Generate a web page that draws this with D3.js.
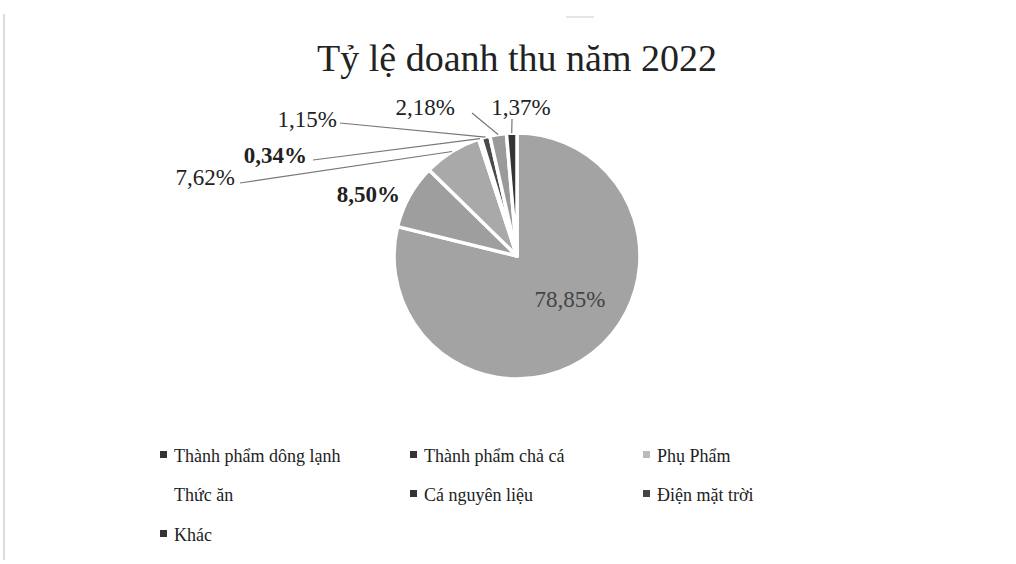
<!DOCTYPE html>
<html>
<head>
<meta charset="utf-8">
<script src="https://cdn.jsdelivr.net/npm/d3@7/dist/d3.min.js"></script>
<style>
  body { margin: 0; background: #fff; }
  svg text { font-family: "Liberation Serif", "Times New Roman", serif; }
</style>
</head>
<body>
<svg id="chart" width="1016" height="564"></svg>
<script>
// data
var categories = ["Thành phẩm dông lạnh", "Thành phẩm chả cá", "Phụ Phẩm",
                  "Thức ăn", "Cá nguyên liệu", "Điện mặt trời", "Khác"];
var shares = [78.85, 8.50, 7.62, 0.34, 1.15, 2.18, 1.37];
var shareLabels = ["78,85%", "8,50%", "7,62%", "0,34%", "1,15%", "2,18%", "1,37%"];

// grey scan look
var fills = ["#a3a3a3", "#9e9e9e", "#a9a9a9", "#2f2f2f", "#4a4a4a", "#9a9a9a", "#353535"];
var markerFills = ["#333", "#333", "#bbb", "none", "#333", "#444", "#333"];

var svg = d3.select("#chart");
var cx = 517, cy = 256, radius = 123;

// faint scan edges
svg.append("line")
  .attr("x1", 4).attr("x2", 4).attr("y1", 14).attr("y2", 560)
  .attr("stroke", "#ddd").attr("stroke-width", 2);
svg.append("line")
  .attr("x1", 566).attr("x2", 594).attr("y1", 17).attr("y2", 17)
  .attr("stroke", "#ccc").attr("stroke-width", 1);

svg.append("text")
  .attr("x", cx).attr("y", 71)
  .attr("text-anchor", "middle")
  .attr("font-size", 38)
  .attr("fill", "#222")
  .text("Tỷ lệ doanh thu năm 2022");

var pie = d3.pie().sort(null).value(d => d);
var arcs = pie(shares);
var arc = d3.arc().innerRadius(0).outerRadius(radius);

var g = svg.append("g").attr("transform", "translate(" + cx + "," + cy + ")");

g.selectAll("path.slice")
  .data(arcs)
  .enter().append("path")
  .attr("class", "slice")
  .attr("d", arc)
  .attr("fill", (d, i) => fills[i])
  .attr("stroke", "#fff")
  .attr("stroke-width", 3.5)
  .attr("stroke-linejoin", "round");

// label placement, relative to pie centre (layout only)
var labelLayout = [
  { dx: 53, dy: 51, anchor: "middle", bold: false, line: null },
  { dx: -117, dy: -54, anchor: "end", bold: true, line: null },
  { dx: -282, dy: -71, anchor: "end", bold: false, line: [-277, -73] },
  { dx: -210, dy: -93, anchor: "end", bold: true, line: [-204, -96] },
  { dx: -180, dy: -129, anchor: "end", bold: false, line: [-177, -133] },
  { dx: -62, dy: -141, anchor: "end", bold: false, line: [-45, -143] },
  { dx: 4, dy: -141, anchor: "middle", bold: false, line: [-5, -137] }
];

function edgePoint(d) {
  var a = (d.startAngle + d.endAngle) / 2;
  return [Math.sin(a) * radius, -Math.cos(a) * radius];
}

g.selectAll("polyline.leader")
  .data(arcs.filter((d, i) => labelLayout[i].line))
  .enter().append("polyline")
  .attr("class", "leader")
  .attr("points", d => [labelLayout[d.index].line, edgePoint(d)].join(" "))
  .attr("fill", "none")
  .attr("stroke", "#777")
  .attr("stroke-width", 1.2);

g.selectAll("text.pct")
  .data(arcs)
  .enter().append("text")
  .attr("class", "pct")
  .attr("x", d => labelLayout[d.index].dx)
  .attr("y", d => labelLayout[d.index].dy)
  .attr("text-anchor", d => labelLayout[d.index].anchor)
  .attr("font-size", 23)
  .attr("font-weight", d => labelLayout[d.index].bold ? "bold" : "normal")
  .attr("fill", (d, i) => i === 0 ? "#444" : "#222")
  .text((d, i) => shareLabels[i]);

// legend, three per row
var colX = [160, 410, 643];
var rowY = [462, 501, 541];

var legend = svg.selectAll("g.legend")
  .data(categories)
  .enter().append("g")
  .attr("class", "legend")
  .attr("transform", (d, i) => "translate(" + colX[i % 3] + "," + rowY[Math.floor(i / 3)] + ")");

legend.append("rect")
  .attr("x", 0).attr("y", -11)
  .attr("width", 7).attr("height", 7)
  .attr("fill", (d, i) => markerFills[i]);

legend.append("text")
  .attr("x", 14).attr("y", 0)
  .attr("font-size", 18)
  .attr("fill", "#222")
  .text(d => d);
</script>
</body>
</html>
